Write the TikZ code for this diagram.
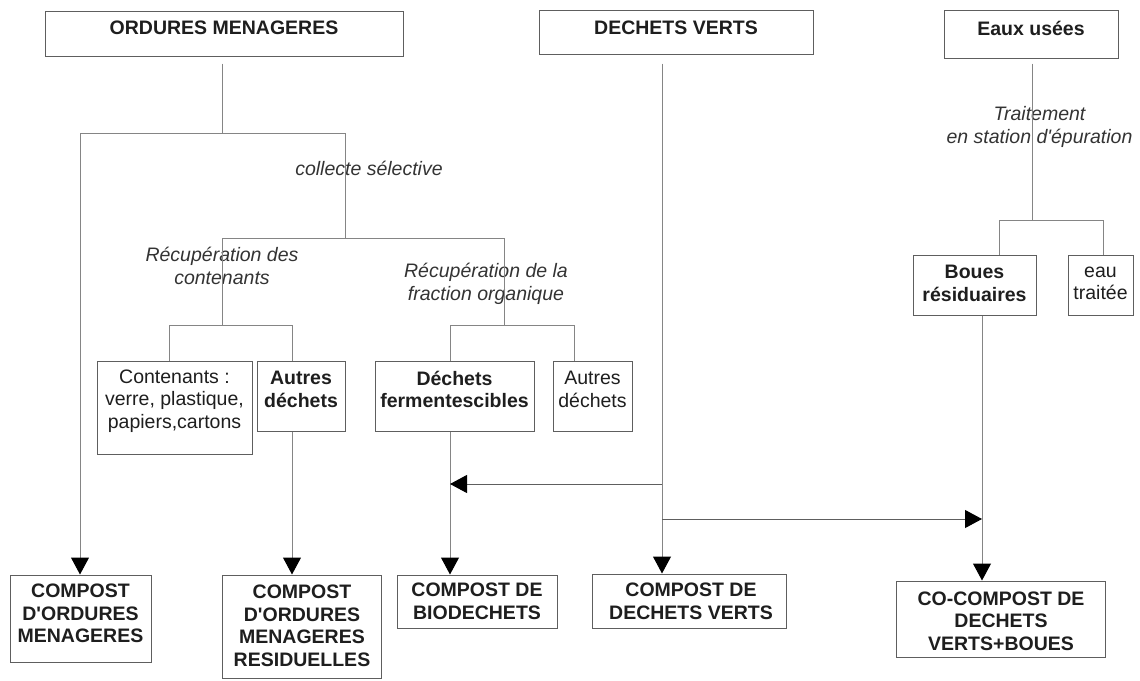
\documentclass[tikz,border=0pt]{standalone}
\usepackage{fontspec}
\setmainfont{Liberation Sans}
\usetikzlibrary{arrows.meta}
\definecolor{linegray}{HTML}{858585}
\definecolor{boxgray}{HTML}{5E5E5E}
\definecolor{inkgray}{HTML}{1E1E1E}
\newcommand{\apos}{\textquotesingle}
\begin{document}
\begin{tikzpicture}[x=1pt,y=-1pt,
  box/.style={draw=boxgray,line width=1pt,rectangle,inner sep=0pt,fill=white},
  txt/.style={inner sep=0pt,align=center,text=inkgray,font=\fontsize{19.5}{22.5}\selectfont},
  btxt/.style={txt,font=\fontsize{19.5}{22.5}\selectfont\bfseries},
  itxt/.style={txt,font=\fontsize{19.5}{23}\selectfont\itshape,text=black!80},
  link/.style={draw=linegray,line width=1pt},
  arrow/.style={link,-{Triangle[length=17pt,width=18pt,color=black]}}]
\useasboundingbox (0,0) rectangle (1140,680);

% sources
\node[box,minimum width=358,minimum height=45] (om) at (224,33.5) {};
\node[btxt] (om-t) at (224,28) {ORDURES MENAGERES};
\node[box,minimum width=274,minimum height=44] (dv) at (676,32) {};
\node[btxt] (dv-t) at (676,28) {DECHETS VERTS};
\node[box,minimum width=174,minimum height=48] (eu) at (1031,34) {};
\node[btxt] (eu-t) at (1031,28.5) {Eaux usées};

% intermediate fractions
\node[box,minimum width=155,minimum height=93] (cont) at (174.5,407.5) {};
\node[txt] (cont-t) at (174.5,401) {Contenants :\\verre, plastique,\\papiers,cartons};
\node[box,minimum width=88,minimum height=70] (aut) at (301,396) {};
\node[btxt] (aut-t) at (301,389.5) {Autres\\déchets};
\node[box,minimum width=159,minimum height=70] (ferm) at (454.5,396) {};
\node[btxt] (ferm-t) at (454.5,389.5) {Déchets\\fermentescibles};
\node[box,minimum width=79,minimum height=70] (aut2) at (592.5,396) {};
\node[txt] (aut2-t) at (592.5,389.5) {Autres\\déchets};
\node[box,minimum width=123,minimum height=60] (boues) at (974.5,285) {};
\node[btxt] (boues-t) at (974.5,283.5) {Boues\\résiduaires};
\node[box,minimum width=65,minimum height=60] (eau) at (1100.5,285) {};
\node[txt] (eau-t) at (1100.5,283.5) {eau\\traitée};

% composts
\node[box,minimum width=141,minimum height=87] (com) at (80.5,618.5) {};
\node[btxt] (com-t) at (80.5,613.5) {COMPOST\\D\apos ORDURES\\MENAGERES};
\node[box,minimum width=159,minimum height=103] (cor) at (301.5,626.5) {};
\node[btxt] (cor-t) at (302,625.6) {COMPOST\\D\apos ORDURES\\MENAGERES\\RESIDUELLES};
\node[box,minimum width=160,minimum height=53] (bio) at (477,601.5) {};
\node[btxt] (bio-t) at (477,601.3) {COMPOST DE\\BIODECHETS};
\node[box,minimum width=194,minimum height=54] (cdv) at (689,601) {};
\node[btxt] (cdv-t) at (691,601.3) {COMPOST DE\\DECHETS VERTS};
\node[box,minimum width=209,minimum height=76] (cocomp) at (1000.5,619) {};
\node[btxt] (cocomp-t) at (1001,621) {CO-COMPOST DE\\DECHETS\\VERTS+BOUES};

% process labels
\node[itxt] (sel) at (369,168) {collecte sélective};
\node[itxt] (rc) at (222,265.5) {Récupération des\\contenants};
\node[itxt] (rf) at (486,283.5) {Récupération de la\\fraction organique};
\node[itxt] (tr) at (1039.5,126.5) {Traitement\\en station d\apos épuration};

% junction points
\coordinate (omJ) at (222,133);
\coordinate (omL) at (80,133);
\coordinate (omR) at (345,133);
\coordinate (selL) at (222,238);
\coordinate (selR) at (504,238);
\coordinate (ctL) at (169,325);
\coordinate (ctR) at (292,325);
\coordinate (orJ) at (504,325);
\coordinate (orL) at (450,325);
\coordinate (orR) at (574,325);
\coordinate (dvX) at (662,60);
\coordinate (dvA) at (662,484);
\coordinate (dvB) at (662,519);
\coordinate (euJ) at (1032,220);
\coordinate (euL) at (999,220);
\coordinate (euR) at (1103,220);
\coordinate (bX) at (982,519);

% household waste branch
\draw[link,shorten <=7pt] (om.south -| omJ) -- (omJ);
\draw[link] (omL) -- (omR);
\draw[arrow] (omL) -- (com.north -| omL);
\draw[link] (omR) -- (omR |- selL);
\draw[link] (selL) -- (selR);
\draw[link] (selL) -- (selL |- ctL);
\draw[link] (ctL) -- (ctR);
\draw[link] (ctL) -- (cont.north -| ctL);
\draw[link] (ctR) -- (aut.north -| ctR);
\draw[arrow] (aut.south -| ctR) -- (cor.north -| ctR);
\draw[link] (selR) -- (orJ);
\draw[link] (orL) -- (orR);
\draw[link] (orL) -- (ferm.north -| orL);
\draw[link] (orR) -- (aut2.north -| orR);
\draw[arrow] (ferm.south -| orL) -- (bio.north -| orL);

% green waste branch
\draw[arrow,shorten <=9pt] (dv.south -| dvX) -- (cdv.north -| dvX);
\draw[arrow,draw=boxgray] (dvA) -- (dvA -| orL);
\draw[arrow,draw=boxgray] (dvB) -- (bX);

% waste water branch
\draw[link,shorten <=5pt] (eu.south -| euJ) -- (euJ);
\draw[link] (euL) -- (euR);
\draw[link] (euL) -- (boues.north -| euL);
\draw[link] (euR) -- (eau.north -| euR);
\draw[arrow] (boues.south -| bX) -- (cocomp.north -| bX);
\end{tikzpicture}
\end{document}
